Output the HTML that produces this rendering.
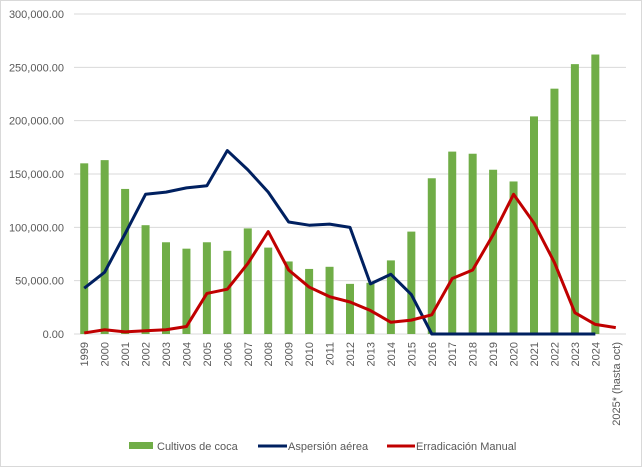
<!DOCTYPE html>
<html><head><meta charset="utf-8"><style>
html,body{margin:0;padding:0;background:#fff}
svg{display:block;font-family:"Liberation Sans",sans-serif}
</style></head><body>
<svg id="chart" width="642" height="467">
<rect x="0.5" y="0.5" width="641" height="466" fill="#fff" stroke="#d9d9d9"/>
<g id="grid"></g><g id="bars"></g><g id="lines"></g><g id="xlabels"></g><g id="ylabels"></g>
<g>
<g><rect x="129" y="442" width="24" height="7" fill="#70ad47"/><text x="157" y="450" font-size="11" fill="#595959">Cultivos de coca</text></g>
<g><line x1="258" y1="446" x2="287" y2="446" stroke="#002060" stroke-width="3"/><text x="288" y="450" font-size="11" fill="#595959">Aspersión aérea</text></g>
<g><line x1="387" y1="446" x2="415" y2="446" stroke="#c00000" stroke-width="3"/><text x="416" y="450" font-size="11" fill="#595959">Erradicación Manual</text></g>
</g>
</svg>
<script>
const categories=["1999","2000","2001","2002","2003","2004","2005","2006","2007","2008","2009","2010","2011","2012","2013","2014","2015","2016","2017","2018","2019","2020","2021","2022","2023","2024","2025* (hasta oct)"];
const coca=[160000,163000,136000,102000,86000,80000,86000,78000,99000,81000,68000,61000,63000,47000,48000,69000,96000,146000,171000,169000,154000,143000,204000,230000,253000,262000,null];
const aspersion=[43000,58000,94000,131000,133000,137000,139000,172000,154000,133000,105000,102000,103000,100000,47000,56000,37000,0,0,0,0,0,0,0,0,0,null];
const manual=[1000,4000,2000,3000,4000,7000,38000,42000,66000,96000,60000,44000,35000,30000,22000,11000,13000,18000,52000,60000,93000,131000,104000,67000,20000,9000,6000];
const yTicks=[0,50000,100000,150000,200000,250000,300000];
const X0=74,X1=626,Y0=334,Y1=14,YMAX=300000;
const NS="http://www.w3.org/2000/svg";
const step=(X1-X0)/categories.length;
const x=i=>X0+step*(i+0.5);
const y=v=>Y0-(v/YMAX)*(Y0-Y1);
function mk(t,a,p){const e=document.createElementNS(NS,t);for(const k in a)e.setAttribute(k,a[k]);document.getElementById(p).appendChild(e);return e;}
yTicks.forEach(v=>{
 const l=mk('line',{x1:X0,x2:X1,y1:y(v),y2:y(v),stroke:'#d9d9d9','stroke-width':1},'grid');
 
 
 const t=mk('text',{x:64,y:y(v)+4,'text-anchor':'end','font-size':11,fill:'#595959'},'ylabels');
 t.textContent=v.toLocaleString('en-US',{minimumFractionDigits:2});
 
 
});
coca.forEach((v,i)=>{if(v==null)return;
 const r=mk('rect',{x:x(i)-4,y:y(v),width:8,height:Y0-y(v),fill:'#70ad47'},'bars');
 
 
});
function line(arr,col,name){let d='';arr.forEach((v,i)=>{if(v==null)return;d+=(d?'L':'M')+x(i)+','+y(v);});
 const p=mk('path',{d:d,fill:'none',stroke:col,'stroke-width':3,'stroke-linejoin':'round'},'lines');
 
 }
line(aspersion,'#002060','line-aspersion');
line(manual,'#c00000','line-manual');
categories.forEach((c,i)=>{
 const t=mk('text',{x:0,y:0,'text-anchor':'end','font-size':11,fill:'#595959',transform:'translate('+(x(i)+4)+','+(Y0+8)+') rotate(-90)'},'xlabels');
 t.textContent=c;
 
 
});
</script>
</body></html>
